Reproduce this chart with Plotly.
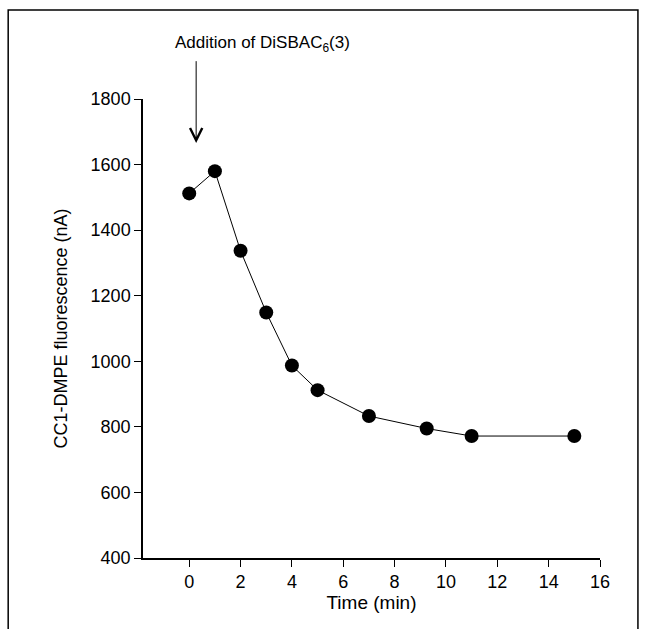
import plotly.graph_objects as go

time_min = [0, 1, 2, 3, 4, 5, 7, 9.25, 11, 15]
fluorescence = [1512, 1580, 1337, 1149, 987, 912, 833, 795, 772, 772]
x_ticks = [0, 2, 4, 6, 8, 10, 12, 14, 16]
y_ticks = [400, 600, 800, 1000, 1200, 1400, 1600, 1800]

font_family = "Liberation Sans, Arial, Helvetica, sans-serif"

fig = go.Figure()
fig.add_trace(go.Scatter(
    x=time_min, y=fluorescence, mode="lines+markers",
    line=dict(color="black", width=1),
    marker=dict(color="black", size=14),
    cliponaxis=False, showlegend=False,
))

fig.update_xaxes(
    range=[-1.8, 16], tickvals=x_ticks, ticktext=[str(v) for v in x_ticks],
    showgrid=False, zeroline=False, showline=True, linecolor="black", linewidth=1.5,
    ticks="outside", ticklen=7, tickwidth=1.2, tickcolor="black",
    tickfont=dict(size=18, color="black", family=font_family),
    title=dict(text="Time (min)", font=dict(size=19, color="black", family=font_family), standoff=2),
)
fig.update_yaxes(
    range=[400, 1800], tickvals=y_ticks,
    showgrid=False, zeroline=False, showline=True, linecolor="black", linewidth=1.5,
    ticks="outside", ticklen=7, tickwidth=1.2, tickcolor="black",
    tickfont=dict(size=18, color="black", family=font_family),
    title=dict(text="CC1-DMPE fluorescence (nA)", font=dict(size=18, color="black", family=font_family), standoff=18),
)

# arrow marking the addition
fig.add_annotation(
    x=0.27, y=1666, ax=0.27, ay=1920, xref="x", yref="y", axref="x", ayref="y",
    text="", showarrow=True, arrowhead=5, arrowsize=2.4, arrowwidth=1, arrowcolor="black",
)
fig.add_annotation(
    x=(173 - 143) / 457, y=1.12, xref="paper", yref="paper", showarrow=False,
    xanchor="left", yanchor="middle",
    text="Addition of DiSBAC<sub>6</sub>(3)",
    font=dict(size=17, color="black", family=font_family),
)

# outer frame
fig.add_shape(type="rect", xref="paper", yref="paper",
              x0=-0.295, x1=1.083, y0=-0.2, y1=1.194,
              line=dict(color="black", width=1.5), fillcolor="rgba(0,0,0,0)", layer="below")

fig.update_layout(
    width=647, height=629,
    margin=dict(l=143, r=47, t=99, b=71),
    paper_bgcolor="white", plot_bgcolor="white",
    font=dict(family=font_family, color="black"),
)

fig.write_html("out.html")
